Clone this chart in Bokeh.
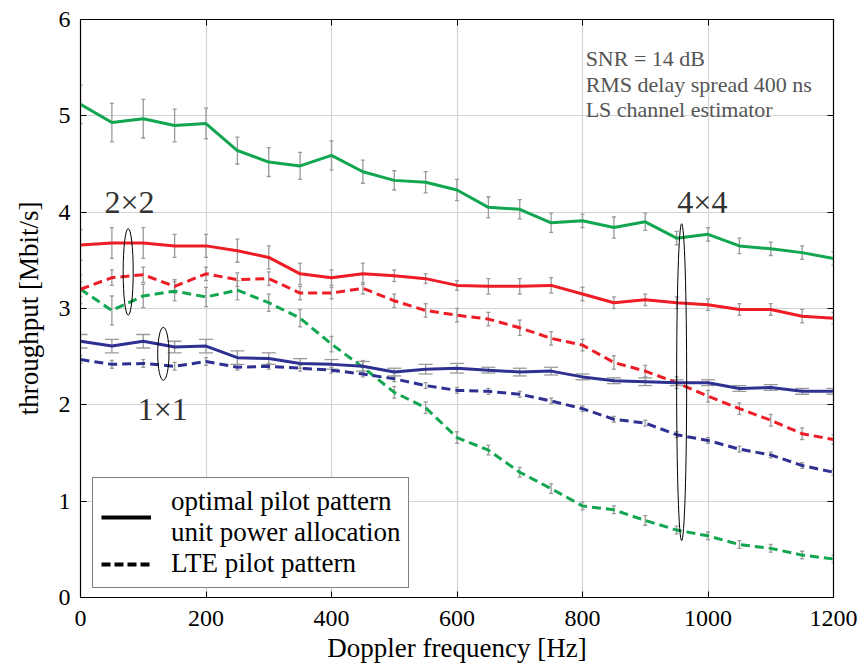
from bokeh.plotting import figure
from bokeh.models import (ColumnDataSource, Whisker, TeeHead, Legend, LegendItem,
                          Label, LinearAxis, FixedTicker, Range1d, CustomJSTickFormatter)
from bokeh.embed import file_html
from bokeh.resources import INLINE

# ---------------- data ----------------
doppler = [0, 50, 100, 150, 200, 250, 300, 350, 400, 450, 500, 550, 600,
           650, 700, 750, 800, 850, 900, 950, 1000, 1050, 1100, 1150, 1200]

green_opt = [5.12, 4.93, 4.97, 4.90, 4.92, 4.64, 4.52, 4.48, 4.59, 4.42, 4.33, 4.31, 4.23,
             4.05, 4.03, 3.89, 3.91, 3.84, 3.90, 3.73, 3.77, 3.65, 3.62, 3.58, 3.52]
green_opt_err = [0.20, 0.20, 0.20, 0.17, 0.16, 0.14, 0.15, 0.14, 0.15, 0.12, 0.10, 0.11, 0.11,
                 0.11, 0.10, 0.10, 0.07, 0.11, 0.09, 0.07, 0.07, 0.08, 0.07, 0.07, 0.07]

red_opt = [3.66, 3.68, 3.68, 3.65, 3.65, 3.60, 3.53, 3.36, 3.32, 3.36, 3.34, 3.31, 3.24,
           3.23, 3.23, 3.24, 3.15, 3.06, 3.09, 3.06, 3.04, 2.99, 2.99, 2.92, 2.90]
red_opt_err = [0.16, 0.16, 0.16, 0.12, 0.12, 0.12, 0.12, 0.11, 0.08, 0.11, 0.06, 0.05, 0.05,
               0.08, 0.08, 0.08, 0.07, 0.06, 0.06, 0.06, 0.06, 0.06, 0.06, 0.07, 0.06]

blue_opt = [2.66, 2.61, 2.66, 2.60, 2.61, 2.49, 2.48, 2.43, 2.42, 2.40, 2.34, 2.37, 2.38,
            2.36, 2.34, 2.35, 2.29, 2.25, 2.24, 2.23, 2.23, 2.17, 2.18, 2.14, 2.14]
blue_opt_err = [0.07, 0.07, 0.07, 0.06, 0.07, 0.07, 0.06, 0.05, 0.05, 0.05, 0.04, 0.05, 0.05,
                0.03, 0.04, 0.04, 0.03, 0.03, 0.04, 0.03, 0.03, 0.03, 0.03, 0.03, 0.03]

green_lte = [3.20, 2.98, 3.13, 3.18, 3.12, 3.19, 3.06, 2.90, 2.63, 2.39, 2.13, 1.97, 1.66,
             1.53, 1.30, 1.13, 0.95, 0.91, 0.80, 0.70, 0.64, 0.55, 0.51, 0.44, 0.40]
green_lte_err = [0.15, 0.15, 0.12, 0.10, 0.10, 0.10, 0.09, 0.09, 0.08, 0.07, 0.06, 0.06, 0.06,
                 0.05, 0.05, 0.05, 0.04, 0.04, 0.05, 0.04, 0.04, 0.04, 0.04, 0.04, 0.04]

red_lte = [3.20, 3.32, 3.35, 3.23, 3.36, 3.30, 3.31, 3.16, 3.16, 3.21, 3.08, 2.98, 2.93,
           2.89, 2.80, 2.69, 2.62, 2.44, 2.35, 2.23, 2.09, 1.96, 1.84, 1.70, 1.64]
red_lte_err = [0.08, 0.08, 0.08, 0.07, 0.07, 0.07, 0.07, 0.07, 0.06, 0.06, 0.07, 0.07, 0.07,
               0.07, 0.08, 0.07, 0.06, 0.07, 0.06, 0.06, 0.06, 0.06, 0.06, 0.06, 0.05]

blue_lte = [2.47, 2.42, 2.43, 2.40, 2.45, 2.39, 2.40, 2.38, 2.36, 2.32, 2.27, 2.20, 2.15,
            2.14, 2.11, 2.04, 1.96, 1.85, 1.81, 1.69, 1.63, 1.54, 1.48, 1.37, 1.30]
blue_lte_err = [0.04, 0.04, 0.04, 0.04, 0.04, 0.03, 0.03, 0.03, 0.03, 0.03, 0.03, 0.03, 0.03,
                0.03, 0.03, 0.03, 0.03, 0.03, 0.03, 0.03, 0.03, 0.03, 0.03, 0.03, 0.03]

x_ticks = [0, 200, 400, 600, 800, 1000, 1200]
y_ticks = [0, 1, 2, 3, 4, 5, 6]

GREEN = "#12A651"
RED = "#EE1C25"
BLUE = "#2E3192"
ERR = "#9a9a9a"
FONT = "Liberation Serif"

p = figure(width=858, height=666, output_backend="svg", toolbar_location=None,
           x_range=Range1d(0, 1200), y_range=Range1d(0, 6),
           min_border_left=80, min_border_right=25, min_border_top=19, min_border_bottom=69)

p.outline_line_color = "black"
p.outline_line_width = 1.2
p.background_fill_color = "white"
p.border_fill_color = "white"

for ax in (p.xaxis[0], p.yaxis[0]):
    ax.major_tick_in = 6
    ax.major_tick_out = 0
    ax.minor_tick_in = 0
    ax.minor_tick_out = 0
    ax.axis_line_color = "black"
    ax.major_tick_line_color = "black"
    ax.major_label_text_font = FONT
    ax.major_label_text_font_size = "24px"
    ax.major_label_text_color = "black"
    ax.axis_label_text_font = FONT
    ax.axis_label_text_font_size = "27px"
    ax.axis_label_text_font_style = "normal"
    ax.axis_label_text_color = "black"

p.xaxis.ticker = FixedTicker(ticks=x_ticks)
p.yaxis.ticker = FixedTicker(ticks=y_ticks)
p.xaxis.axis_label = "Doppler frequency [Hz]"
p.yaxis.axis_label = "throughput [Mbit/s]"
p.xaxis.major_label_standoff = 13
p.xaxis.axis_label_standoff = 4
p.yaxis.major_label_standoff = 10
p.yaxis.axis_label_standoff = 12

blank = CustomJSTickFormatter(code="return ''")
for loc, tk in (("right", y_ticks), ("above", x_ticks)):
    a = LinearAxis(ticker=FixedTicker(ticks=tk), major_tick_in=6, major_tick_out=0,
                   minor_tick_in=0, minor_tick_out=0, formatter=blank,
                   major_label_standoff=0, axis_line_color="black")
    p.add_layout(a, loc)

p.xgrid.ticker = FixedTicker(ticks=x_ticks)
p.ygrid.ticker = FixedTicker(ticks=y_ticks)
p.grid.grid_line_color = "#d4d4d4"
p.grid.grid_line_width = 1.2

series = [
    (green_lte, green_lte_err, GREEN, "9 5", 4),
    (red_lte, red_lte_err, RED, "9 5", 4),
    (blue_lte, blue_lte_err, BLUE, "9 5", 4),
    (green_opt, green_opt_err, GREEN, "solid", 4),
    (red_opt, red_opt_err, RED, "solid", 4),
    (blue_opt, blue_opt_err, BLUE, "solid", 14),
]

for ys, es, col, dash, head in series:
    src = ColumnDataSource(dict(x=doppler, y=ys,
                                lo=[a - b for a, b in zip(ys, es)],
                                hi=[a + b for a, b in zip(ys, es)]))
    p.line("x", "y", source=src, line_color=col, line_width=3, line_dash=dash)
    w = Whisker(source=src, base="x", upper="hi", lower="lo",
                line_color=ERR, line_width=1.3,
                upper_head=TeeHead(size=head, line_color=ERR, line_width=1.3),
                lower_head=TeeHead(size=head, line_color=ERR, line_width=1.3))
    p.add_layout(w)

# annotation loops (group markers)
loop_x = [76, 132, 958]
loop_y = [3.38, 2.53, 2.235]
loop_w = [16, 18, 16]
loop_h = [0.90, 0.55, 3.29]
p.ellipse(x=loop_x, y=loop_y, width=loop_w, height=loop_h,
          fill_color=None, line_color="black", line_width=1)

for txt, lx, ly in (("2×2", 78, 4.11), ("1×1", 131, 1.96), ("4×4", 991, 4.11)):
    p.add_layout(Label(x=lx, y=ly, text=txt, text_font=FONT, text_font_size="32px",
                       text_color="#333333", text_align="center", text_baseline="middle"))

for i, txt in enumerate(["SNR = 14 dB", "RMS delay spread 400 ns", "LS channel estimator"]):
    p.add_layout(Label(x=805, y=5.59 - 0.26 * i, text=txt, text_font=FONT,
                       text_font_size="22px", text_color="#555555",
                       text_align="left", text_baseline="alphabetic"))

# legend (proxy renderers lie outside the visible ranges)
r_solid = p.line([-200, -100], [-1, -1], line_color="black", line_width=4)
r_dash = p.line([-200, -100], [-1, -1], line_color="black", line_width=4, line_dash="9 4")
legend = Legend(items=[
    LegendItem(label="optimal pilot pattern\nunit power allocation", renderers=[r_solid]),
    LegendItem(label="LTE pilot pattern", renderers=[r_dash]),
], location=(12, 9))
legend.label_text_font = FONT
legend.label_text_font_size = "27px"
legend.label_text_color = "black"
legend.glyph_width = 50
legend.label_standoff = 20
legend.border_line_color = "black"
legend.border_line_width = 1.5
legend.background_fill_alpha = 1
legend.padding = 8
legend.spacing = 0
legend.margin = 0
p.add_layout(legend, "center")

open("out.html", "w").write(file_html(p, INLINE))
